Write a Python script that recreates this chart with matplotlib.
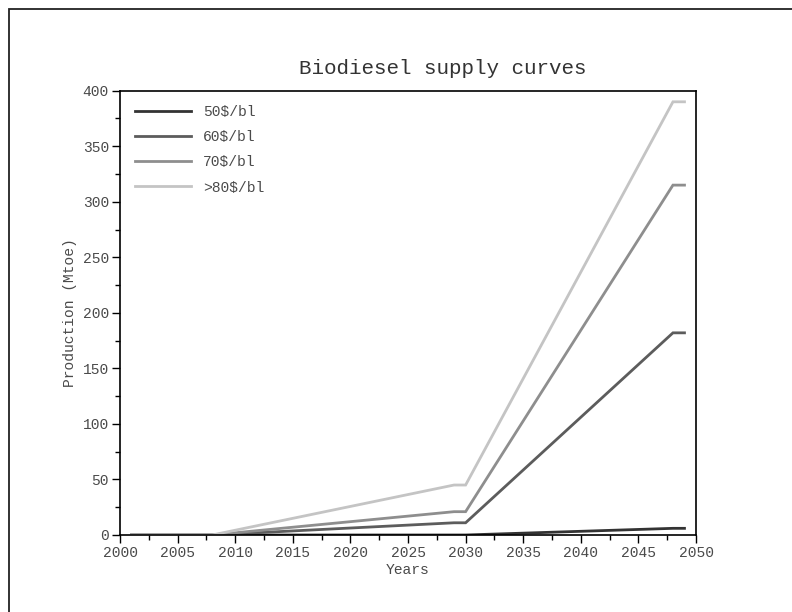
import matplotlib
matplotlib.use("Agg")
import matplotlib.pyplot as plt
from matplotlib.patches import Rectangle
from matplotlib.ticker import MultipleLocator

plt.rcParams["font.family"] = ["Liberation Mono", "DejaVu Sans Mono"]

YEARS = [2001, 2008, 2029, 2030, 2048, 2049]
P50 = [0, 0, 0, 0, 6, 6]
P60 = [0, 0, 11, 11, 182, 182]
P70 = [0, 0, 21, 21, 315, 315]
P80 = [0, 0, 45, 45, 390, 390]

SERIES = [
    ("50$/bl", P50, "#333333"),
    ("60$/bl", P60, "#5c5c5c"),
    ("70$/bl", P70, "#8e8e8e"),
    (">80$/bl", P80, "#c4c4c4"),
]

fig = plt.figure(figsize=(7.92, 6.12), dpi=100)
ax = fig.add_axes([120 / 792, 1 - 535 / 612, 576 / 792, 444.3 / 612])

for label, vals, color in SERIES:
    ax.plot(YEARS, vals, color=color, linewidth=2.0, label=label,
            solid_joinstyle="miter")

ax.set_xlim(2000, 2050)
ax.set_ylim(0, 400)
ax.xaxis.set_major_locator(MultipleLocator(5))
ax.xaxis.set_minor_locator(MultipleLocator(2.5))
ax.yaxis.set_major_locator(MultipleLocator(50))
ax.yaxis.set_minor_locator(MultipleLocator(25))
ax.tick_params(which="major", direction="out", length=6, width=1,
               labelsize=10.5, labelcolor="#4a4a4a", pad=2)
ax.tick_params(which="minor", direction="out", length=3.5, width=1)
for s in ax.spines.values():
    s.set_linewidth(1.2)

ax.set_xlabel("Years", fontsize=10.5, color="#4a4a4a", labelpad=2)
ax.set_ylabel("Production (Mtoe)", fontsize=10.5, color="#4a4a4a", labelpad=4)

fig.text(443 / 792, 1 - 68 / 612, "Biodiesel supply curves", fontsize=15,
         color="#333333", ha="center", va="center")

leg = ax.legend(loc="upper left", frameon=False, fontsize=10.5,
                handlelength=3.9, handletextpad=0.8, labelspacing=0.76,
                borderaxespad=0.6, bbox_to_anchor=(0.0, 1.0))
for t in leg.get_texts():
    t.set_color("#4a4a4a")

# outer frame (only top and left edges fall inside the image)
fig.patches.append(Rectangle((9 / 792, -0.5), 2.0, 1.5 - 9 / 612,
                             transform=fig.transFigure, fill=False,
                             edgecolor="#222222", linewidth=1.3))

fig.savefig("out.png", dpi=100)
